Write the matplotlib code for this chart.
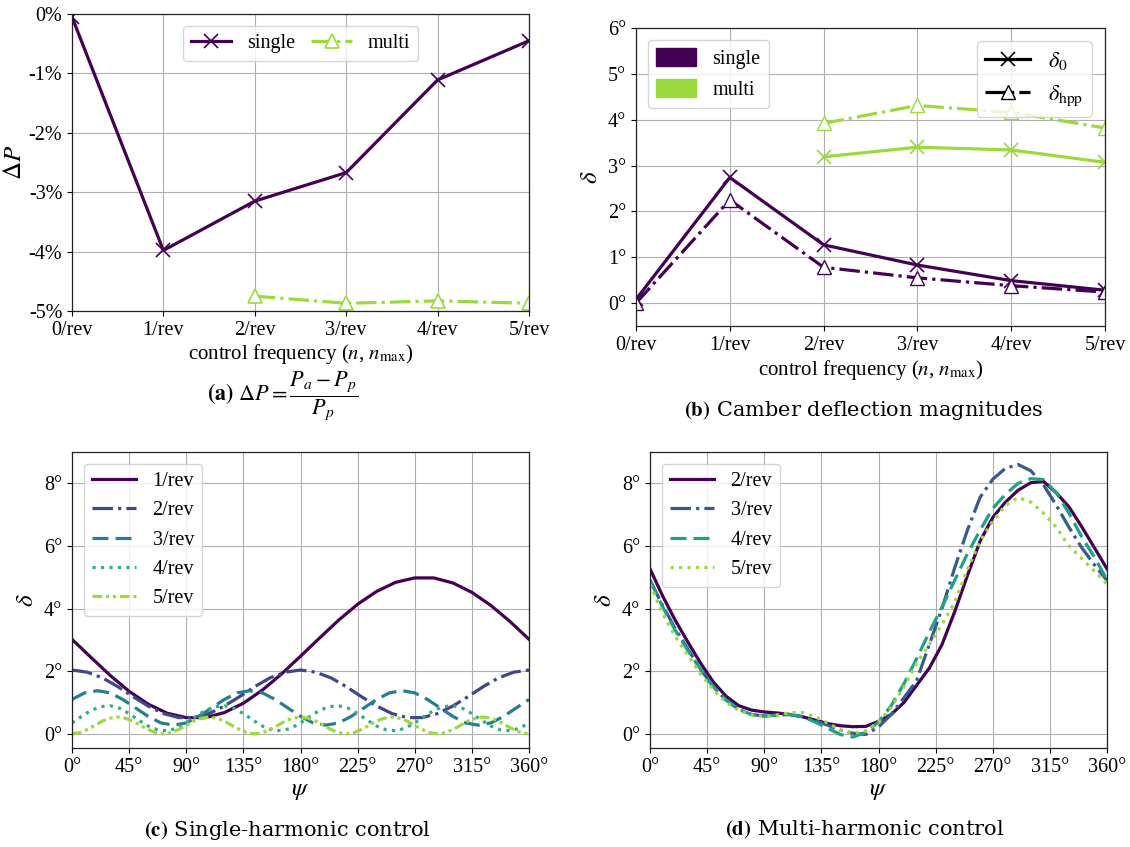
import numpy as np
import matplotlib
matplotlib.use("Agg")
import matplotlib.pyplot as plt
from matplotlib.patches import Patch
from matplotlib.lines import Line2D

# ---------------- data ----------------
freq_labels = ["0/rev", "1/rev", "2/rev", "3/rev", "4/rev", "5/rev"]
freq_single = [0, 1, 2, 3, 4, 5]
freq_multi = [2, 3, 4, 5]

# power change (%)
dP_single = [-0.05, -3.98, -3.15, -2.67, -1.11, -0.45]
dP_multi = [-4.75, -4.87, -4.83, -4.87]
pct_ticks = [0, -1, -2, -3, -4, -5]
pct_labels = ["0%", "-1%", "-2%", "-3%", "-4%", "-5%"]

# camber deflection magnitudes (deg)
delta0_single = [0.08, 2.74, 1.27, 0.83, 0.49, 0.28]
deltahpp_single = [0.0, 2.25, 0.78, 0.55, 0.38, 0.24]
delta0_multi = [3.19, 3.40, 3.34, 3.07]
deltahpp_multi = [3.92, 4.31, 4.16, 3.82]
deg_ticks_b = [0, 1, 2, 3, 4, 5, 6]
deg_labels_b = ["0°", "1°", "2°", "3°", "4°", "5°", "6°"]

# azimuth ticks
psi_ticks = [0, 45, 90, 135, 180, 225, 270, 315, 360]
psi_labels = ["0°", "45°", "90°", "135°", "180°", "225°", "270°", "315°", "360°"]
deg_ticks_cd = [0, 2, 4, 6, 8]
deg_labels_cd = ["0°", "2°", "4°", "6°", "8°"]

# single-harmonic camber schedules, delta(psi) in deg
psi_1 = np.arange(0, 361, 15)
single_1 = [3.02, 2.44, 1.87, 1.36, 0.95, 0.66, 0.52, 0.52, 0.68, 0.98, 1.40, 1.91,
            2.48, 3.06, 3.63, 4.14, 4.55, 4.84, 4.98, 4.98, 4.82, 4.52, 4.10, 3.59, 3.02]
psi_2 = np.arange(0, 361, 12)
single_2 = [2.04, 1.97, 1.79, 1.51, 1.19, 0.89, 0.65, 0.52, 0.52, 0.65, 0.89, 1.19,
            1.51, 1.79, 1.97, 2.04, 1.97, 1.79, 1.51, 1.19, 0.89, 0.65, 0.52, 0.52,
            0.65, 0.89, 1.19, 1.51, 1.79, 1.97, 2.04]
psi_3 = np.arange(0, 361, 10)
single_3 = [1.10, 1.31, 1.38, 1.31, 1.10, 0.83, 0.56, 0.35, 0.28, 0.35, 0.56, 0.83,
            1.10, 1.31, 1.38, 1.31, 1.10, 0.83, 0.56, 0.35, 0.28, 0.35, 0.56, 0.83,
            1.10, 1.31, 1.38, 1.31, 1.10, 0.83, 0.56, 0.35, 0.28, 0.35, 0.56, 0.83,
            1.10]
psi_4 = np.arange(0, 360.1, 7.5)
single_4 = [0.35, 0.56, 0.75, 0.87, 0.90, 0.82, 0.65, 0.44, 0.25, 0.13, 0.10, 0.18,
            0.35, 0.56, 0.75, 0.87, 0.90, 0.82, 0.65, 0.44, 0.25, 0.13, 0.10, 0.18,
            0.35, 0.56, 0.75, 0.87, 0.90, 0.82, 0.65, 0.44, 0.25, 0.13, 0.10, 0.18,
            0.35, 0.56, 0.75, 0.87, 0.90, 0.82, 0.65, 0.44, 0.25, 0.13, 0.10, 0.18,
            0.35]
psi_5 = np.arange(0, 361, 6)
single_5 = [0.00, 0.04, 0.14, 0.27, 0.41, 0.50, 0.54, 0.50, 0.41, 0.27, 0.14, 0.04,
            0.00, 0.04, 0.14, 0.27, 0.41, 0.50, 0.54, 0.50, 0.41, 0.27, 0.14, 0.04,
            0.00, 0.04, 0.14, 0.27, 0.41, 0.50, 0.54, 0.50, 0.41, 0.27, 0.14, 0.04,
            0.00, 0.04, 0.14, 0.27, 0.41, 0.50, 0.54, 0.50, 0.41, 0.27, 0.14, 0.04,
            0.00, 0.04, 0.14, 0.27, 0.41, 0.50, 0.54, 0.50, 0.41, 0.27, 0.14, 0.04,
            0.00]

# multi-harmonic camber schedules (10 deg azimuth steps)
psi_m = np.arange(0, 361, 10)
multi_2 = [5.27, 4.40, 3.62, 2.92, 2.25, 1.65, 1.20, 0.90, 0.76, 0.70, 0.67, 0.62,
           0.55, 0.44, 0.33, 0.26, 0.23, 0.24, 0.40, 0.62, 1.00, 1.55, 2.10, 2.85,
           3.90, 5.05, 6.15, 6.91, 7.40, 7.78, 8.02, 8.06, 7.70, 7.25, 6.62, 5.95, 5.27]
multi_3 = [4.90, 4.10, 3.35, 2.70, 2.05, 1.50, 1.08, 0.78, 0.62, 0.57, 0.60, 0.62,
           0.55, 0.42, 0.28, 0.12, 0.02, -0.02, 0.22, 0.62, 1.15, 1.70, 2.85, 4.00,
           5.30, 6.50, 7.55, 8.13, 8.48, 8.60, 8.40, 7.95, 7.30, 6.60, 5.95, 5.40, 4.90]
multi_4 = [4.92, 4.05, 3.30, 2.65, 2.05, 1.50, 1.08, 0.78, 0.62, 0.57, 0.60, 0.62,
           0.55, 0.38, 0.18, -0.02, -0.10, 0.05, 0.38, 0.90, 1.60, 2.40, 3.25, 4.05,
           4.90, 5.75, 6.50, 7.20, 7.65, 8.00, 8.15, 8.12, 7.70, 7.05, 6.30, 5.65, 4.92]
multi_5 = [4.78, 3.85, 3.10, 2.50, 1.90, 1.40, 1.00, 0.75, 0.60, 0.55, 0.60, 0.68,
           0.68, 0.55, 0.35, 0.12, 0.02, 0.10, 0.38, 0.85, 1.50, 2.25, 2.85, 3.50,
           4.20, 5.25, 6.15, 6.80, 7.30, 7.55, 7.40, 7.05, 6.60, 6.00, 5.60, 5.20, 4.78]

# ---------------- style ----------------
plt.rcParams.update({
    "font.family": ["Liberation Serif", "DejaVu Serif"],
    "mathtext.fontset": "stix",
    "font.size": 14.5,
    "axes.labelsize": 15,
    "axes.grid": True,
    "grid.color": "#b0b0b0",
    "grid.linewidth": 0.8,
    "axes.linewidth": 0.9,
    "legend.fancybox": True,
    "legend.framealpha": 0.8,
    "legend.edgecolor": "0.8",
})

viridis = plt.get_cmap("viridis")
c_single = viridis(0.0)
c_multi = viridis(0.85)
cols_c = viridis(np.linspace(0, 0.85, 5))
cols_d = viridis(np.linspace(0, 0.85, 4))
LW = 2.3

W, H = 1130, 847
fig = plt.figure(figsize=(W / 100, H / 100), dpi=100)


def box(l, t, r, b):
    return [l / W, 1 - b / H, (r - l) / W, (b - t) / H]


ax_a = fig.add_axes(box(72, 14, 529, 311))
ax_b = fig.add_axes(box(636, 28, 1105, 326))
ax_c = fig.add_axes(box(72, 452, 529, 748))
ax_d = fig.add_axes(box(650, 452, 1107, 748))

YL = 18  # size of the symbolic y-axis labels

# ---- (a) power change ----
ax_a.plot(freq_single, dP_single, "-", color=c_single, lw=LW, marker="x", ms=10,
          mew=1.2, label="single")
ax_a.plot(freq_multi, dP_multi, "-.", color=c_multi, lw=LW, marker="^", ms=10,
          mfc="white", mew=1.2, label="multi")
ax_a.set_xlim(0, 5)
ax_a.set_ylim(-5, 0)
ax_a.set_xticks(freq_single, freq_labels)
ax_a.set_yticks(pct_ticks, pct_labels)
ax_a.set_xlabel(r"control frequency ($n$, $n_{\rm max}$)", labelpad=2)
ax_a.set_ylabel(r"$\Delta P$", labelpad=2, fontsize=YL)
ax_a.legend(loc="upper center", ncol=2, handlelength=2.0, columnspacing=0.8,
            borderaxespad=0.6)

# ---- (b) camber deflection magnitudes ----
ax_b.plot(freq_single, delta0_single, "-", color=c_single, lw=LW, marker="x", ms=10, mew=1.2)
ax_b.plot(freq_single, deltahpp_single, "-.", color=c_single, lw=LW, marker="^", ms=10,
          mfc="white", mew=1.0)
ax_b.plot(freq_multi, delta0_multi, "-", color=c_multi, lw=LW, marker="x", ms=10, mew=1.2)
ax_b.plot(freq_multi, deltahpp_multi, "-.", color=c_multi, lw=LW, marker="^", ms=10,
          mfc="white", mew=1.0)
ax_b.set_xlim(0, 5)
ax_b.set_ylim(-0.5, 6)
ax_b.set_xticks(freq_single, freq_labels)
ax_b.set_yticks(deg_ticks_b, deg_labels_b)
ax_b.set_xlabel(r"control frequency ($n$, $n_{\rm max}$)", labelpad=2)
ax_b.set_ylabel(r"$\delta$", labelpad=4, fontsize=YL)
leg_col = ax_b.legend(handles=[Patch(color=c_single, label="single"),
                               Patch(color=c_multi, label="multi")],
                      loc="upper left", handlelength=2.0, handleheight=1.0,
                      borderaxespad=0.6)
ax_b.add_artist(leg_col)
ax_b.legend(handles=[Line2D([], [], color="k", lw=LW, ls="-", marker="x", ms=10, mew=1.2,
                            label=r"$\delta_0$"),
                     Line2D([], [], color="k", lw=LW, ls="-.", marker="^", ms=10,
                            mfc="white", mew=1.0, label=r"$\delta_{\rm hpp}$")],
            loc="upper right", handlelength=2.0, borderaxespad=0.6, fontsize=16)

# ---- (c) single-harmonic control ----
styles_c = ["-", "-.", (0, (5, 2.2)), ":", (0, (3, 1.2, 1, 1.2, 1, 1.2))]
series_c = [(psi_1, single_1), (psi_2, single_2), (psi_3, single_3),
            (psi_4, single_4), (psi_5, single_5)]
for (x, y), ls, col, lab in zip(series_c, styles_c, cols_c, freq_labels[1:]):
    ax_c.plot(x, y, ls=ls, color=col, lw=LW, label=lab)
ax_c.set_xlim(0, 360)
ax_c.set_ylim(-0.45, 9.0)
ax_c.set_xticks(psi_ticks, psi_labels)
ax_c.set_yticks(deg_ticks_cd, deg_labels_cd)
ax_c.set_xlabel(r"$\psi$", labelpad=2, fontsize=YL)
ax_c.set_ylabel(r"$\delta$", labelpad=4, fontsize=YL)
ax_c.legend(loc="upper left", handlelength=2.2, borderaxespad=0.6)

# ---- (d) multi-harmonic control ----
styles_d = ["-", "-.", (0, (5, 2.2)), ":"]
series_d = [multi_2, multi_3, multi_4, multi_5]
for y, ls, col, lab in zip(series_d, styles_d, cols_d, freq_labels[2:]):
    ax_d.plot(psi_m, y, ls=ls, color=col, lw=LW, label=lab)
ax_d.set_xlim(0, 360)
ax_d.set_ylim(-0.45, 9.0)
ax_d.set_xticks(psi_ticks, psi_labels)
ax_d.set_yticks(deg_ticks_cd, deg_labels_cd)
ax_d.set_xlabel(r"$\psi$", labelpad=2, fontsize=YL)
ax_d.set_ylabel(r"$\delta$", labelpad=4, fontsize=YL)
ax_d.legend(loc="upper left", handlelength=2.2, borderaxespad=0.6)

for ax in (ax_a, ax_b, ax_c, ax_d):
    ax.set_axisbelow(True)
    for s in ax.spines.values():
        s.set_color("#222222")

# ---- captions ----
cap_font = dict(fontsize=15, ha="center", va="center", family="DejaVu Serif")
fig.text(283 / W, 1 - 396 / H,
         r"$\mathbf{(a)}\ \Delta P = \dfrac{P_a - P_p}{P_p}$", fontsize=16,
         ha="center", va="center")
fig.text(864 / W, 1 - 410 / H, r"$\mathbf{(b)}$ Camber deflection magnitudes", **cap_font)
fig.text(288 / W, 1 - 830 / H, r"$\mathbf{(c)}$ Single-harmonic control", **cap_font)
fig.text(865 / W, 1 - 830 / H, r"$\mathbf{(d)}$ Multi-harmonic control", **cap_font)

fig.savefig("out.png", dpi=100)
